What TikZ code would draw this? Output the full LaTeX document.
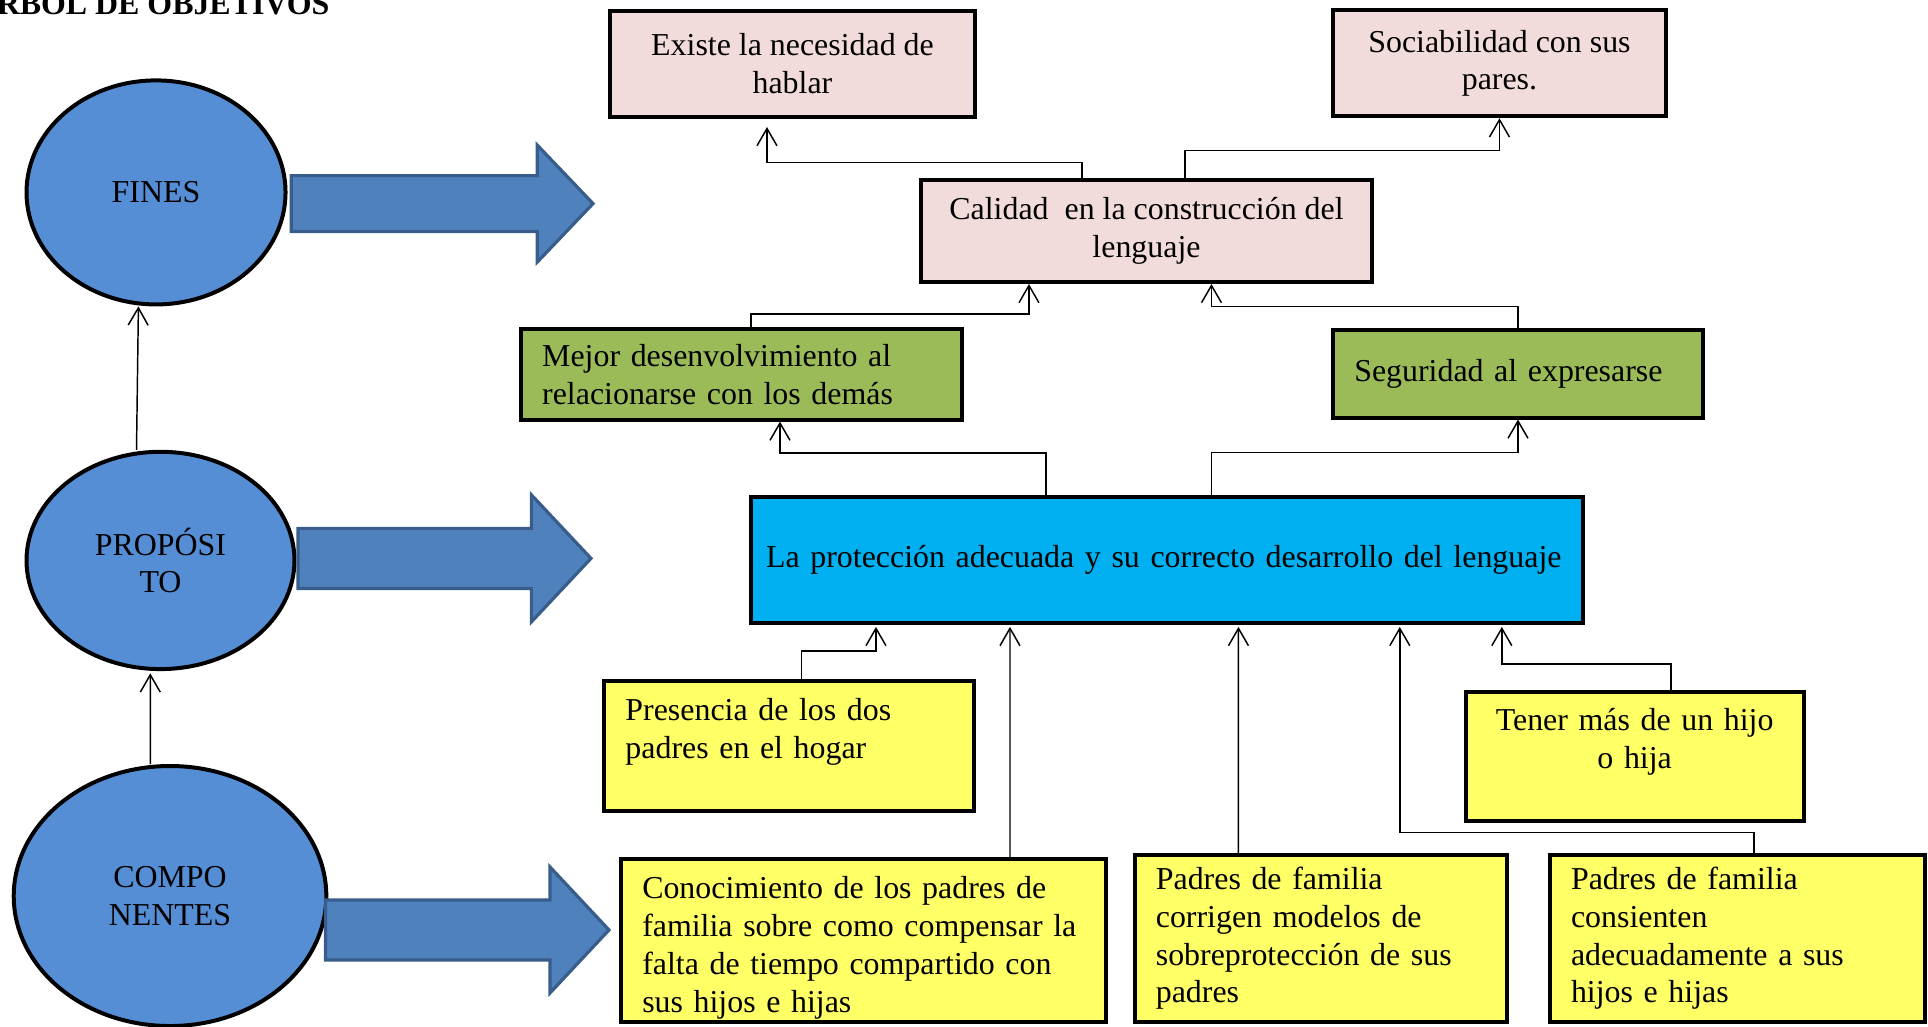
\documentclass[tikz,border=0pt]{standalone}
\usepackage{fontspec}
\setmainfont{Liberation Serif}
\usetikzlibrary{shapes.geometric,arrows.meta}
\definecolor{rosa}{HTML}{F2DCDB}
\definecolor{verde}{HTML}{9BBB59}
\definecolor{celeste}{HTML}{00B0F0}
\definecolor{amarillo}{HTML}{FFFF66}
\definecolor{azul}{HTML}{558ED5}
\definecolor{azulflecha}{HTML}{4F81BD}
\definecolor{bordeflecha}{HTML}{385D8A}
\tikzset{%
  caja/.style={rectangle,draw,line width=1.5pt,inner xsep=8pt,inner ysep=2pt,
    font=\fontsize{12pt}{14.2pt}\selectfont},
  nivel/.style={ellipse,draw,line width=1.5pt,fill=azul,inner sep=0pt,
    align=center,font=\fontsize{12pt}{14.2pt}\selectfont},
  flecha/.style={-{Straight Barb[length=6.5pt,width=7.5pt]},line width=0.55pt},
  flechagorda/.style={fill=azulflecha,draw=bordeflecha,line width=1.2pt}
}

\begin{document}
\begin{tikzpicture}
    \useasboundingbox (0,0) rectangle (25.492,-13.566);
    \node [anchor=base west,inner sep=0pt,font=\fontsize{12pt}{14.2pt}\selectfont\bfseries]
      (titulo) at (-0.354,-0.198) {ÁRBOL DE OBJETIVOS};

    % niveles
    \node [nivel,minimum width=3.425cm,minimum height=2.962cm] (fine) at (2.063,-2.544) {FINES};
    \node [nivel,minimum width=3.543cm,minimum height=2.873cm] (prop) at (2.122,-7.410) {PROPÓSI\\TO};
    \node [nivel,minimum width=4.133cm,minimum height=3.438cm] (comp) at (2.248,-11.847) {COMPO\\NENTES};
    \foreach \xa/\xb/\xc/\yc/\sh/\hh in {3.852/7.104/7.841/-2.692/0.370/0.773,
        3.940/7.026/7.814/-7.383/0.397/0.840, 4.304/7.272/8.052/-12.296/0.397/0.833}
      \filldraw [flechagorda] (\xa,\yc+\sh) -- (\xb,\yc+\sh) -- (\xb,\yc+\hh) -- (\xc,\yc)
        -- (\xb,\yc-\hh) -- (\xb,\yc-\sh) -- (\xa,\yc-\sh) -- cycle;

    % fines
    \node [caja,fill=rosa,align=center,minimum width=4.826cm,minimum height=1.402cm]
      (exis) at (10.478,-0.840) {Existe la necesidad de\\hablar};
    \node [caja,fill=rosa,align=center,minimum width=4.403cm,minimum height=1.402cm]
      (soci) at (19.826,-0.836) {Sociabilidad con sus\\pares.};
    \node [caja,fill=rosa,align=center,minimum width=5.963cm,minimum height=1.349cm]
      (cali) at (15.159,-3.054) {Calidad\ \ en la construcción del\\lenguaje};
    \node [caja,fill=verde,align=left,text width=5.27cm,minimum height=1.197cm]
      (mejo) at (9.804,-4.949) {Mejor desenvolvimiento al\\relacionarse con los demás};
    \node [caja,fill=verde,align=left,text width=4.33cm,minimum height=1.157cm]
      (segu) at (20.071,-4.942) {Seguridad al expresarse};

    % proposito
    \node [caja,fill=celeste,align=left,inner xsep=0.2cm,text width=10.6cm,minimum height=1.657cm]
      (prot) at (15.430,-7.404) {La protección adecuada y su correcto desarrollo del lenguaje};

    % componentes
    \node [caja,fill=amarillo,align=left,text width=4.33cm,minimum height=1.719cm]
      (pres) at (10.435,-9.864) {Presencia de los dos\\padres en el hogar\\[-1pt]\mbox{}};
    \node [caja,fill=amarillo,align=center,text width=3.91cm,minimum height=1.711cm]
      (tene) at (21.613,-10.000) {Tener más de un hijo\\o hija\\[-1pt]\mbox{}};
    \node [caja,fill=amarillo,align=left,text width=5.85cm,minimum height=2.150cm]
      (cono) at (11.417,-12.438) {Conocimiento de los padres de\\familia sobre como compensar la\\falta de tiempo compartido con\\sus hijos e hijas\\[-17pt]\mbox{}};
    \node [caja,fill=amarillo,align=left,text width=4.36cm,minimum height=2.208cm]
      (corr) at (17.463,-12.409) {Padres de familia\\corrigen modelos de\\sobreprotección de sus\\padres};
    \node [caja,fill=amarillo,align=left,text width=4.40cm,minimum height=2.208cm]
      (cons) at (22.972,-12.409) {Padres de familia\\consienten\\adecuadamente a sus\\hijos e hijas};

    \draw [flecha] ([xshift=-0.317cm]prop.north) -- ([xshift=-0.233cm]fine.south);
    \draw [flecha] ([xshift=-0.260cm]comp.north) -- ([xshift=-0.135cm,yshift=-0.03cm]prop.south);

    \draw [flecha] ([xshift=-0.853cm]cali.north) -- ++(0,0.208) -| ([xshift=-0.337cm,yshift=-0.112cm]exis.south);
    \draw [flecha] ([xshift=0.509cm]cali.north) -- ++(0,0.365) -| (soci.south);
    \draw [flecha] ([xshift=0.126cm]mejo.north) -- ++(0,0.172) -| ([xshift=-1.554cm]cali.south);
    \draw [flecha] (segu.north) -- ++(0,0.284) -| ([xshift=0.859cm]cali.south);
    \draw [flecha] ([xshift=-1.600cm]prot.north) -- ++(0,0.559) -| ([xshift=0.509cm]mejo.south);
    \draw [flecha] ([xshift=0.591cm]prot.north) -- ++(0,0.563) -| (segu.south);

    \draw [flecha] ([xshift=0.164cm]pres.north) -- ++(0,0.370) -| ([xshift=-3.848cm,yshift=-0.03cm]prot.south);
    \draw [flecha] ([xshift=1.937cm]cono.north) -- ([xshift=-2.076cm,yshift=-0.03cm]prot.south);
    \draw [flecha] ([xshift=-1.088cm]corr.north) -- ([xshift=0.945cm,yshift=-0.03cm]prot.south);
    \draw [flecha] ([xshift=0.219cm]cons.north) -- ++(0,0.272) -| ([xshift=3.078cm,yshift=-0.03cm]prot.south);
    \draw [flecha] ([xshift=0.481cm]tene.north) -- ++(0,0.338) -| ([xshift=4.427cm,yshift=-0.03cm]prot.south);
\end{tikzpicture}
\end{document}
